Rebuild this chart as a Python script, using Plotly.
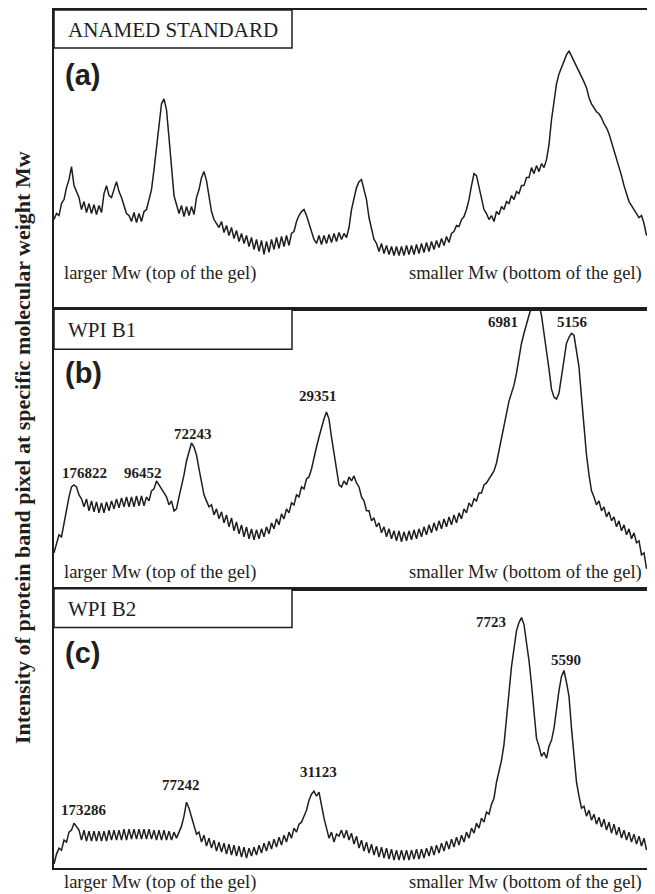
import numpy as np
import plotly.graph_objects as go

# ---------------- data (lane position step 2.5 px, intensity in a.u.) ----------------
intensity_a = [
    90, 96, 94, 106, 110, 122, 130, 143, 124, 118,
    112, 100, 108, 97, 106, 96, 105, 95, 104, 97,
    116, 124, 114, 112, 120, 128, 118, 112, 104, 96,
    94, 88, 97, 87, 96, 88, 98, 100, 110, 120,
    140, 162, 190, 206, 211, 200, 172, 138, 114, 105,
    96, 104, 93, 103, 94, 103, 95, 112, 120, 132,
    138, 129, 114, 98, 90, 86, 82, 88, 77, 84,
    74, 82, 71, 79, 68, 76, 66, 74, 63, 72,
    60, 70, 58, 69, 55, 68, 57, 70, 60, 72,
    61, 73, 63, 74, 64, 76, 78, 88, 94, 98,
    100, 94, 86, 76, 70, 66, 74, 65, 74, 66,
    75, 67, 76, 68, 77, 70, 76, 72, 82, 100,
    112, 122, 128, 130, 120, 110, 92, 80, 70, 66,
    58, 66, 56, 64, 55, 63, 54, 63, 54, 63,
    54, 64, 55, 64, 55, 65, 56, 66, 57, 67,
    58, 68, 60, 69, 62, 71, 64, 73, 67, 76,
    78, 84, 83, 90, 93, 100, 110, 124, 136, 134,
    122, 112, 100, 96, 90, 94, 88, 98, 95, 103,
    100, 108, 106, 114, 110, 118, 116, 124, 124, 132,
    132, 142, 136, 144, 138, 146, 142, 150, 165, 190,
    210, 226, 236, 242, 248, 255, 259, 254, 248, 243,
    238, 234, 228, 222, 212, 206, 202, 198, 196, 192,
    186, 182, 176, 168, 160, 152, 142, 134, 124, 116,
    108, 104, 100, 96, 92, 94, 86, 74,
]

intensity_b = [
    36, 46, 54, 52, 66, 82, 92, 102, 104, 102,
    94, 90, 82, 90, 78, 88, 77, 87, 76, 86,
    76, 87, 78, 88, 80, 90, 81, 91, 82, 92,
    82, 92, 82, 93, 83, 93, 83, 92, 88, 98,
    100, 108, 104, 100, 96, 92, 84, 88, 78, 80,
    92, 102, 114, 128, 138, 146, 142, 134, 120, 106,
    94, 88, 82, 84, 74, 80, 70, 77, 66, 74,
    62, 71, 58, 67, 55, 64, 52, 62, 50, 60,
    49, 59, 50, 60, 52, 62, 55, 66, 60, 70,
    64, 75, 70, 80, 76, 86, 84, 94, 92, 102,
    100, 110, 112, 120, 132, 142, 152, 162, 170, 177,
    170, 152, 136, 120, 104, 102, 108, 104, 112, 108,
    113, 106, 102, 92, 88, 78, 78, 68, 71, 62,
    66, 56, 62, 52, 60, 50, 58, 48, 58, 47,
    57, 48, 58, 49, 59, 50, 60, 52, 62, 54,
    64, 56, 66, 58, 68, 60, 70, 62, 72, 64,
    74, 66, 76, 70, 80, 76, 86, 82, 90, 88,
    96, 96, 104, 106, 110, 114, 118, 126, 138, 152,
    162, 176, 188, 196, 204, 216, 232, 246, 256, 266,
    274, 282, 286, 288, 284, 274, 258, 238, 220, 200,
    192, 190, 196, 212, 230, 246, 252, 256, 254, 240,
    222, 192, 162, 134, 114, 98, 92, 84, 88, 78,
    82, 72, 77, 68, 72, 62, 68, 58, 64, 54,
    60, 50, 56, 46, 48, 34, 36, 20,
]

intensity_c = [
    4, 14, 20, 18, 28, 26, 36, 38, 45, 42,
    38, 28, 38, 27, 37, 27, 37, 27, 37, 27,
    37, 27, 38, 28, 38, 28, 38, 28, 39, 28,
    39, 29, 39, 29, 39, 29, 39, 29, 39, 29,
    38, 28, 38, 28, 38, 28, 37, 28, 36, 30,
    36, 42, 52, 66, 60, 52, 44, 34, 36, 26,
    33, 22, 30, 20, 28, 17, 26, 16, 25, 14,
    24, 13, 23, 12, 22, 11, 21, 10, 20, 12,
    21, 13, 23, 15, 25, 17, 27, 19, 29, 21,
    31, 23, 33, 26, 36, 30, 40, 36, 44, 46,
    52, 58, 68, 74, 77, 72, 76, 62, 50, 40,
    30, 36, 26, 34, 32, 38, 30, 38, 28, 35,
    24, 32, 20, 28, 17, 26, 15, 24, 13, 22,
    11, 21, 10, 20, 9, 19, 8, 18, 8, 18,
    8, 18, 8, 18, 9, 19, 9, 19, 10, 20,
    12, 22, 13, 23, 15, 25, 17, 27, 19, 29,
    21, 31, 23, 33, 26, 36, 30, 40, 35, 45,
    40, 50, 46, 56, 54, 64, 70, 86, 98, 108,
    124, 150, 176, 202, 220, 238, 246, 251, 244, 228,
    208, 184, 156, 130, 122, 112, 116, 110, 122, 128,
    140, 160, 178, 192, 198, 186, 172, 140, 114, 86,
    72, 60, 62, 52, 58, 48, 54, 44, 51, 41,
    49, 38, 46, 35, 44, 33, 41, 30, 38, 28,
    36, 26, 34, 24, 32, 22, 30, 18,
]

panel_names = ["ANAMED STANDARD", "WPI B1", "WPI B2"]
panel_letters = ["(a)", "(b)", "(c)"]
peaks_b = ["176822", "96452", "72243", "29351", "6981", "5156"]
peaks_c = ["173286", "77242", "31123", "7723", "5590"]
left_note = "larger Mw (top of the gel)"
right_note = "smaller Mw (bottom of the gel)"
y_title = "Intensity of protein band pixel at specific molecular weight Mw"

# ---------------- layout helpers ----------------
# the page body keeps its default 8 px margin, so the figure is sized to fit
# inside the 655x894 window and page coordinates are shifted by that offset
OFF = 8
W, H = 655 - OFF, 894 - OFF
def px(x):
    return (x - OFF) / W
def py(y):
    return 1 - (y - OFF) / H

LEFT, RIGHT = 54, 647
tops = [8, 308, 588]
bottoms = [308, 588, 868]
LINE = "#1e1e1e"
SERIF = "Liberation Serif, Times New Roman, serif"
SANS = "Liberation Sans, Arial, sans-serif"
STEP = 2.5

fig = go.Figure()
series = [intensity_a, intensity_b, intensity_c]
for i, vals in enumerate(series):
    xs = np.arange(len(vals)) * STEP
    fig.add_trace(go.Scatter(
        x=xs, y=vals, mode="lines",
        line=dict(color=LINE, width=1.5),
        xaxis="x" if i == 0 else f"x{i+1}",
        yaxis="y" if i == 0 else f"y{i+1}",
        showlegend=False, hoverinfo="skip",
    ))

layout = dict(
    width=W, height=H,
    margin=dict(l=0, r=0, t=0, b=0),
    paper_bgcolor="white", plot_bgcolor="white",
    showlegend=False,
)
for i in range(3):
    sx = "" if i == 0 else str(i + 1)
    axstyle = dict(showgrid=False, zeroline=False, showticklabels=False,
                   ticks="", showline=True, mirror=True,
                   linecolor=LINE, linewidth=1.6, fixedrange=True)
    layout[f"xaxis{sx}"] = dict(domain=[px(LEFT), px(RIGHT)], range=[0, RIGHT - LEFT],
                                anchor=f"y{sx}", **axstyle)
    layout[f"yaxis{sx}"] = dict(domain=[py(bottoms[i]), py(tops[i])],
                                range=[0, bottoms[i] - tops[i]],
                                anchor=f"x{sx}", **axstyle)
fig.update_layout(**layout)

shapes = []
annotations = []
box_h = [38, 40, 39]
note_y = [272, 572, 882]
letter_y = [73, 372, 652]
for i in range(3):
    shapes.append(dict(type="rect", xref="paper", yref="paper",
                       x0=px(LEFT), x1=px(292), y0=py(tops[i] + box_h[i]), y1=py(tops[i]),
                       line=dict(color=LINE, width=1.5), fillcolor="white"))
    annotations.append(dict(text=panel_names[i], xref="paper", yref="paper",
                            x=px(66), y=py(tops[i] + box_h[i] / 2 + 1), xanchor="left", yanchor="middle",
                            showarrow=False, font=dict(family=SERIF, size=21, color=LINE)))
    annotations.append(dict(text=panel_letters[i], xref="paper", yref="paper",
                            x=px(63), y=py(letter_y[i]), xanchor="left", yanchor="middle",
                            showarrow=False, font=dict(family=SANS, size=29, color=LINE, weight="bold")))
    annotations.append(dict(text=left_note, xref="paper", yref="paper",
                            x=px(62), y=py(note_y[i]), xanchor="left", yanchor="middle",
                            showarrow=False, font=dict(family=SERIF, size=18.5, color=LINE)))
    annotations.append(dict(text=right_note, xref="paper", yref="paper",
                            x=px(644), y=py(note_y[i]), xanchor="right", yanchor="middle",
                            showarrow=False, font=dict(family=SERIF, size=18.5, color=LINE)))

pos_b = [(84, 472), (143, 472), (193, 433), (318, 395), (503, 321), (572, 321)]
pos_c = [(84, 810), (181, 785), (318, 772), (491, 621), (566, 659)]
for lab, (x, y) in zip(peaks_b, pos_b):
    annotations.append(dict(text=lab, xref="paper", yref="paper", x=px(x), y=py(y),
                            xanchor="center", yanchor="middle", showarrow=False,
                            font=dict(family=SERIF, size=15, color=LINE, weight="bold")))
for lab, (x, y) in zip(peaks_c, pos_c):
    annotations.append(dict(text=lab, xref="paper", yref="paper", x=px(x), y=py(y),
                            xanchor="center", yanchor="middle", showarrow=False,
                            font=dict(family=SERIF, size=15, color=LINE, weight="bold")))

annotations.append(dict(text=y_title, xref="paper", yref="paper", x=px(22), y=py(447),
                        xanchor="center", yanchor="middle", textangle=-90, showarrow=False,
                        font=dict(family=SERIF, size=22, color=LINE, weight="bold")))

fig.update_layout(shapes=shapes, annotations=annotations)
fig.write_html("out.html")
